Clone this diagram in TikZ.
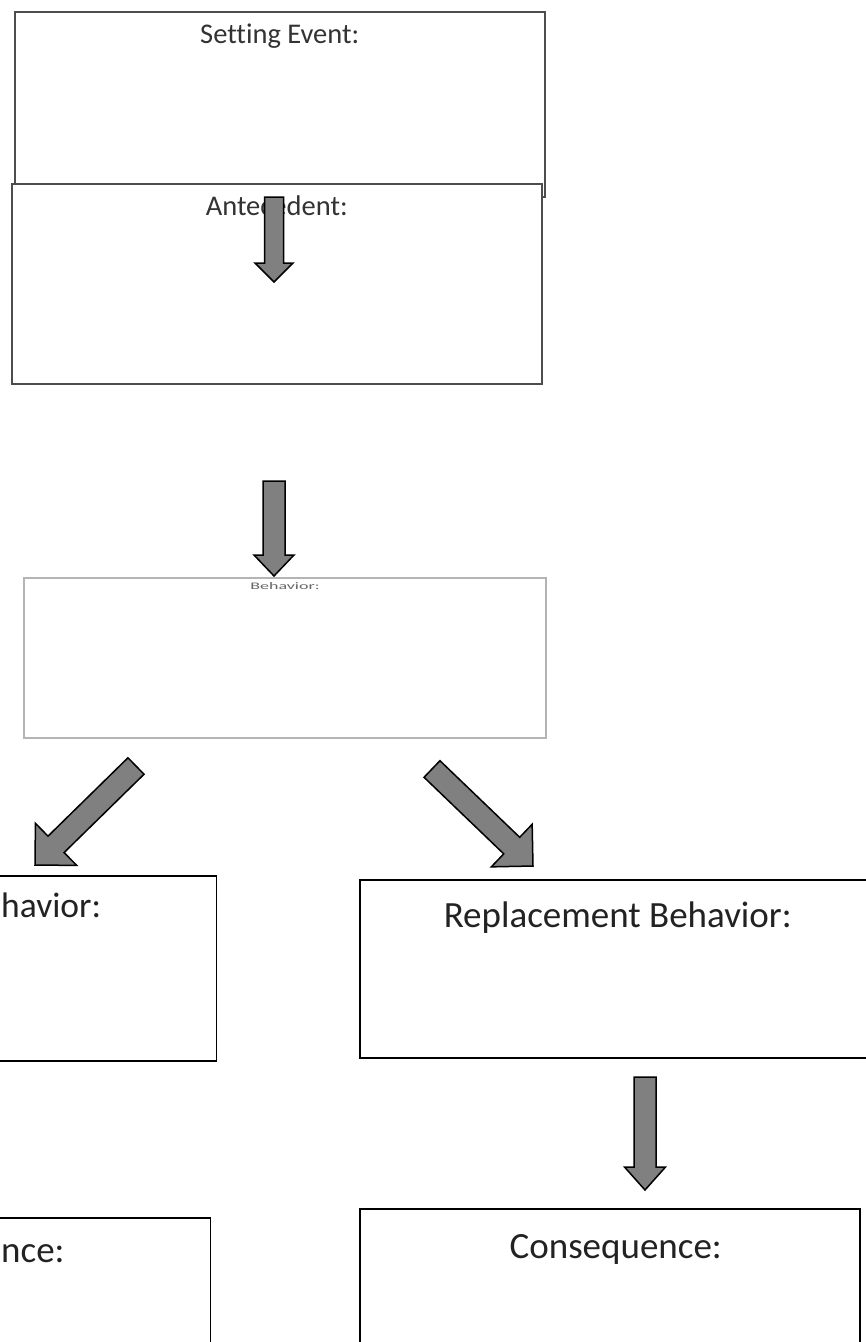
\documentclass[tikz,border=0pt]{standalone}
\usepackage{fontspec}
\usepackage{graphicx}
\setmainfont{Carlito}[Ligatures=NoCommon]
\usetikzlibrary{calc,positioning}
\definecolor{arrowgray}{HTML}{808080}
\definecolor{boxgray}{HTML}{4D4D4D}
\definecolor{lightline}{HTML}{B4B4B4}
\definecolor{textdark}{HTML}{222222}
\definecolor{textgray}{HTML}{333333}
% block arrow: tail, tip, shaft half width, head half width, head length
\newcommand{\fatarrow}[5]{%
	\coordinate (#1-h) at ($(#2)!#5!(#1)$);
	\draw[blockarrow] ($(#1)!#3!90:(#2)$) -- ($(#1-h)!#3!90:(#2)$) -- ($(#1-h)!#4!90:(#2)$) -- (#2)
	-- ($(#1-h)!#4!-90:(#2)$) -- ($(#1-h)!#3!-90:(#2)$) -- ($(#1)!#3!-90:(#2)$) -- cycle;}
\begin{document}
\begin{tikzpicture}[x=1pt, y=-1pt, line join=miter,
	box/.style={draw=black, line width=1.5pt, fill=white, rectangle, inner sep=0pt},
	topbox/.style={box, draw=boxgray},
	lightbox/.style={box, draw=lightline, line width=2pt},
	bigtitle/.style={font=\fontsize{37}{44}\selectfont, text=textdark, inner sep=0pt},
	smalltitle/.style={font=\fontsize{28.5}{34}\selectfont, text=textgray, inner sep=0pt},
	blockarrow/.style={draw=black, line width=1.5pt, fill=arrowgray}]
	\useasboundingbox (0,0) rectangle (866,1342);
	\clip (0,0) rectangle (866,1342);
	\fill[white] (0,0) rectangle (866,1342);
	% top: setting event and antecedent
	\node[topbox, anchor=north west, minimum width=530pt, minimum height=185pt] (se) at (14,11) {};
	\node[smalltitle, anchor=base] (set) at ([yshift=-32pt]se.north) {Setting Event:};
	\node[topbox, anchor=north west, minimum width=530pt, minimum height=200pt] (ant) at (11,183) {};
	\node[smalltitle, anchor=base] (antt) at ([yshift=-32pt]ant.north) {Antecedent:};
	\coordinate (a1t) at (274,197);
	\coordinate (a1h) at (274,282);
	\fatarrow{a1t}{a1h}{9.5pt}{19pt}{19pt}
	% behavior
	\coordinate (a2t) at (274,481);
	\coordinate (a2h) at (274,576);
	\fatarrow{a2t}{a2h}{11pt}{20pt}{21pt}
	\node[lightbox, anchor=north west, minimum width=522pt, minimum height=160pt] (beh) at (23,577) {};
	\node[inner sep=0pt, text=black!60, anchor=base] (beht) at ([yshift=-12pt]beh.north)
	{\scalebox{1.8}[1]{\fontsize{10}{12}\selectfont Behavior:}};
	\coordinate (a3t) at (136,766);
	\coordinate (a3h) at (35,865);
	\fatarrow{a3t}{a3h}{11.5pt}{29.5pt}{29.5pt}
	\coordinate (a4t) at (432,769);
	\coordinate (a4h) at (533,866);
	\fatarrow{a4t}{a4h}{11.5pt}{29.5pt}{29.5pt}
	% problem and replacement behavior
	\node[box, anchor=north east, minimum width=520pt, minimum height=185pt] (pb) at (217,875) {};
	\node[bigtitle, font=\fontsize{35.5}{42}\selectfont, anchor=base west] (pbt) at (1,917) {havior:};
	\node[box, anchor=north west, minimum width=520pt, minimum height=178pt] (rb) at (359,879) {};
	\node[bigtitle, anchor=base] (rbt) at ([xshift=-2pt,yshift=-48pt]rb.north) {Replacement Behavior:};
	\coordinate (a5t) at (645,1077);
	\coordinate (a5h) at (645,1190);
	\fatarrow{a5t}{a5h}{11pt}{20.5pt}{23pt}
	% consequences
	\node[box, anchor=north east, minimum width=520pt, minimum height=200pt] (lc) at (211,1217) {};
	\node[bigtitle, anchor=base west] (lct) at (1,1262) {nce:};
	\node[box, anchor=north west, minimum width=500pt, minimum height=200pt] (rc) at (359,1208) {};
	\node[bigtitle, anchor=base] (rct) at ([xshift=6pt,yshift=-50pt]rc.north) {Consequence:};
\end{tikzpicture}
\end{document}
